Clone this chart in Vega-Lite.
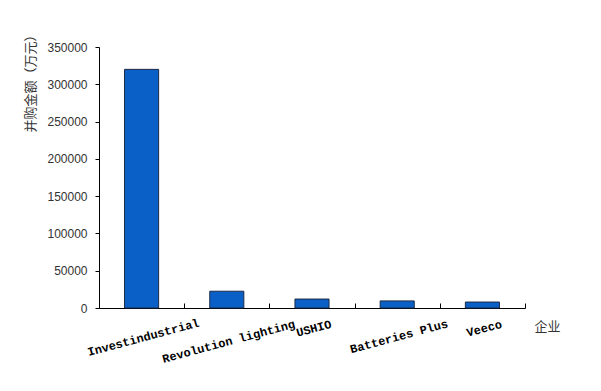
{
  "$schema": "https://vega.github.io/schema/vega-lite/v6.json",
  "width": 426,
  "height": 261,
  "autosize": "none",
  "padding": {"left": 99, "top": 47, "right": 76, "bottom": 83},
  "background": "white",
  "config": {"view": {"stroke": null}},
  "data": {
    "values": [
      {"company": "Investindustrial", "amount": 320000},
      {"company": "Revolution lighting", "amount": 22500},
      {"company": "USHIO", "amount": 12000},
      {"company": "Batteries Plus", "amount": 9500},
      {"company": "Veeco", "amount": 8000}
    ]
  },
  "mark": {"type": "bar", "color": "#0b60c8", "stroke": "#1c2a44", "strokeWidth": 1, "width": {"band": 0.4}},
  "encoding": {
    "x": {
      "field": "company",
      "type": "nominal",
      "sort": null,
      "scale": {"paddingInner": 0, "paddingOuter": 0},
      "axis": {
        "title": "企业",
        "titleFont": "Noto Sans CJK SC",
        "titleFontSize": 13,
        "titleFontWeight": "normal",
        "titleColor": "#333333",
        "titleX": 448,
        "titleY": 18,
        "titleAlign": "center",
        "titleBaseline": "middle",
        "domainColor": "#000000",
        "domainWidth": 1,
        "tickBand": "extent",
        "tickColor": "#000000",
        "tickSize": -5,
        "labelAngle": -15,
        "labelAlign": "center",
        "labelBaseline": "top",
        "labelFont": "Liberation Mono",
        "labelFontWeight": "bold",
        "labelFontSize": 12,
        "labelColor": "#000000",
        "labelPadding": {
          "condition": [
            {"test": "datum.value == 'Investindustrial'", "value": 29},
            {"test": "datum.value == 'Revolution lighting'", "value": 33},
            {"test": "datum.value == 'Batteries Plus'", "value": 28}
          ],
          "value": 20
        }
      }
    },
    "y": {
      "field": "amount",
      "type": "quantitative",
      "scale": {"domain": [0, 350000], "nice": false},
      "axis": {
        "title": "并购金额（万元）",
        "titleFont": "Noto Sans CJK SC",
        "titleFontSize": 13,
        "titleFontWeight": "normal",
        "titleColor": "#333333",
        "titleAngle": -90,
        "titleAlign": "right",
        "titleBaseline": "middle",
        "titleX": -69,
        "titleY": -19,
        "values": [0, 50000, 100000, 150000, 200000, 250000, 300000, 350000],
        "format": "d",
        "grid": false,
        "domainColor": "#000000",
        "tickColor": "#000000",
        "tickSize": 4,
        "labelPadding": 8,
        "labelFont": "Liberation Sans",
        "labelFontSize": 12,
        "labelColor": "#333333"
      }
    }
  }
}
